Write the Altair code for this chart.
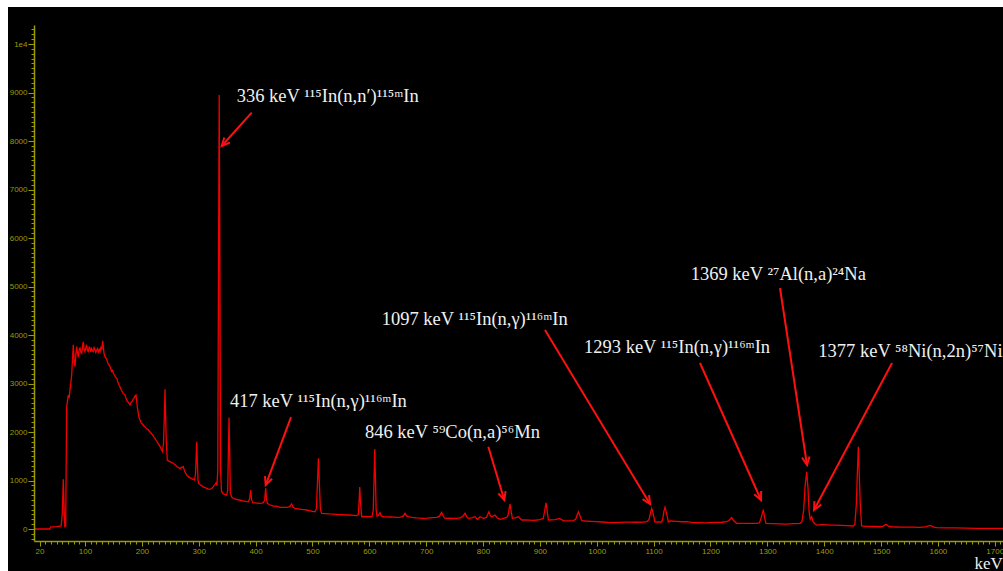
import math
import altair as alt
import pandas as pd

# ---------------- data ----------------
energy_kev = [
    10, 38, 40, 50, 58, 60, 61.8, 63, 64.5, 66, 67.8, 70.6, 72, 73.6, 75, 76.6, 78, 79.4, 81, 82.4,
    84, 85.4, 87, 88.2, 89.8, 91.2, 92.8, 94.2, 95.6, 96.9, 98.5, 99.9, 101.5, 102.9, 104.3, 105.8,
    107.3, 108.8, 110.2, 111.7, 113.1, 114.6, 116, 117.5, 119, 120.6, 122, 123.5, 125, 126.4, 128,
    129.5, 131.1, 132.3, 133.4, 135, 136.6, 138.2, 139.7, 141, 142.5, 144, 145.5, 147, 148.4, 149.8,
    151.3, 152.8, 154.3, 155.8, 157.3, 158.8, 160.3, 161.6, 163.1, 164.6, 166, 167.5, 169, 170.4,
    172, 173.5, 175, 176.6, 178, 179.1, 180.6, 182, 183.4, 184.8, 186.2, 187.8, 189.7, 190.8, 192,
    193.5, 195, 196.7, 198.5, 200, 202, 204, 205.5, 207.5, 209.5, 211.5, 213, 214.3, 216, 218, 220,
    221.5, 223.1, 225, 227, 229, 230.5, 232, 234, 236, 238, 239.5, 240.7, 241.8, 243, 244.7, 247,
    249, 251, 253, 255.3, 257, 259, 261, 263, 265, 267.1, 269, 271, 272.9, 275, 277, 279, 281.7,
    284, 286, 288, 290.5, 292.5, 294.5, 295.5, 296.5, 297.5, 298.8, 300, 302, 304, 306, 308.1, 310,
    312, 314, 316, 318, 319.8, 322, 324, 325.6, 327, 329, 330.4, 332, 333.5, 335, 336, 337, 338.5,
    340, 342.2, 344, 346, 348, 349.2, 351, 352.3, 353.3, 354.3, 355.6, 358, 360.8, 363, 366, 369,
    372.6, 376, 380, 384.4, 387, 389.5, 391.4, 393, 395, 399, 403, 407.8, 411, 413.7, 416, 417.8,
    419.2, 420.6, 425, 431, 437, 443, 449, 454.8, 460, 463.5, 466, 469.3, 475, 480, 485, 489.9, 495,
    500, 504.5, 507, 509, 510.5, 512, 514, 516.3, 522, 530, 536.7, 543, 550, 560.3, 566, 572, 578,
    580.7, 582, 583.2, 584.5, 586.6, 592, 597, 601.2, 605, 607, 608.5, 609.5, 610.7, 612, 613.5,
    616, 618.8, 621, 624.6, 630, 637, 643, 648.2, 655, 660, 662.8, 665.5, 668.6, 675, 683, 690,
    695, 702, 710, 718.5, 723, 727.3, 730.5, 733.2, 740, 747, 753.7, 760, 765, 768.3, 771, 774.1,
    780, 786, 790, 794.7, 800.5, 806, 810.5, 813, 815.3, 818, 821.1, 825, 829.9, 836, 841.7, 844,
    846, 847.5, 849, 851.6, 857, 862.2, 868, 875, 882, 888, 894.4, 900, 906, 908.5, 910.8, 912.8,
    914.9, 920, 927, 934.3, 941.3, 950, 958.9, 963, 965.5, 967.7, 970, 973.6, 980, 990, 1000, 1010,
    1020, 1029, 1040, 1050, 1058.5, 1070, 1081.9, 1088, 1092, 1094.5, 1096.7, 1099, 1102.5, 1108,
    1114.2, 1116, 1118, 1120.1, 1122.5, 1126, 1128.8, 1140, 1150, 1158.1, 1169.8, 1180, 1190,
    1199.2, 1210, 1220, 1228.5, 1233, 1237.3, 1241, 1246.1, 1255, 1265, 1275, 1281.3, 1286, 1289,
    1292.9, 1295.5, 1297.6, 1310, 1322, 1334, 1345, 1352, 1357.5, 1361, 1364, 1366.5, 1369.3,
    1371.5, 1373.5, 1375.5, 1378, 1380.5, 1384, 1386.8, 1395, 1405, 1416, 1430, 1440, 1451.2, 1454,
    1456.5, 1458.5, 1460, 1461.5, 1463.5, 1465.8, 1475, 1487, 1498, 1504, 1508.7, 1513, 1518.7,
    1530, 1545, 1557, 1568.6, 1578, 1586.2, 1593, 1598, 1615, 1630, 1650, 1668.3, 1690, 1715,
]
counts = [
    0, 0, 45, 50, 65, 300, 1025, 500, 50, 60, 2520, 2760, 2700, 2870, 3000, 3180, 3500, 3800, 3450, 3350,
    3600, 3760, 3620, 3550, 3700, 3730, 3640, 3620, 3760, 3860, 3700, 3660, 3740, 3800, 3680, 3660,
    3750, 3730, 3650, 3720, 3680, 3660, 3740, 3700, 3640, 3690, 3720, 3650, 3700, 3660, 3760,
    3700, 3880, 3750, 3620, 3560, 3530, 3490, 3440, 3400, 3380, 3350, 3300, 3250, 3270, 3210,
    3180, 3150, 3120, 3110, 3050, 3000, 2960, 2930, 2880, 2850, 2820, 2790, 2780, 2760,
    2700, 2650, 2630, 2600, 2580, 2560, 2600, 2620, 2640, 2680, 2700, 2740, 2760, 2650, 2520,
    2400, 2300, 2250, 2200, 2180, 2150, 2120, 2110, 2080, 2060, 2040, 2020, 2000, 1980, 1950, 1920,
    1890, 1870, 1830, 1790, 1760, 1730, 1700, 1650, 1600, 1750, 2300, 2880, 2300, 1800, 1420, 1400,
    1390, 1380, 1370, 1350, 1340, 1320, 1300, 1280, 1260, 1250, 1265, 1275, 1285, 1200, 1150, 1110, 1080,
    1060, 1050, 1040, 1025, 1010, 1150, 1500, 1800, 1400, 1000, 940, 920, 900, 890, 870, 860,
    850, 840, 830, 825, 818, 830, 850, 870, 900, 920, 950, 900, 1200, 6000, 8950, 6000, 1200,
    780, 736, 720, 715, 705, 700, 800, 1700, 2300, 1700, 740, 660, 633, 620, 610, 600,
    598, 585, 575, 563, 560, 620, 804, 600, 542, 540, 535, 530, 535, 542, 600, 839,
    620, 530, 500, 474, 470, 447, 445, 447, 460, 515, 450, 426, 415, 405, 400, 392, 380,
    365, 357, 420, 1000, 1460, 1000, 400, 323, 318, 312, 309, 300, 295, 289, 289, 283, 276,
    300, 550, 866, 550, 254, 258, 256, 254, 262, 400, 1100, 1650, 1100, 400, 268,
    280, 337, 270, 254, 250, 248, 245, 241, 245, 270, 323, 270, 254, 240, 230, 225,
    220, 225, 235, 241, 260, 344, 260, 220, 222, 218, 220, 230, 270, 323, 260, 220,
    230, 254, 200, 254, 220, 240, 357, 270, 254, 270, 289, 230, 200, 220, 241, 280,
    420, 515, 400, 220, 230, 254, 186, 190, 185, 180, 186, 195, 220, 380, 542, 380,
    186, 190, 195, 220, 172, 170, 172, 200, 290, 357, 290, 172, 165, 158, 151, 145,
    135, 130, 138, 142, 144, 140, 144, 150, 200, 330, 426, 330, 144, 145,
    144, 200, 360, 447, 340, 144, 165, 158, 150, 151, 130, 132, 128,
    130, 135, 140, 151, 180, 235, 170, 117, 115, 118, 116, 117, 125, 220,
    400, 220, 117, 112, 108, 103, 110, 112, 117, 150, 400, 900, 1181,
    850, 350, 200, 254, 150, 103, 82, 90, 85, 82, 75, 70, 62, 100,
    500, 1200, 1697, 1200, 500, 62, 55, 52, 47, 60, 96, 60, 47,
    42, 40, 38, 34, 45, 76, 40, 27, 25, 22, 18, 14, 15, 14,
]

x_major_ticks = [20, 100, 200, 300, 400, 500, 600, 700, 800, 900, 1000, 1100, 1200, 1300, 1400, 1500, 1600, 1700]
x_minor_ticks = list(range(20, 1711, 10))
y_major_ticks = [0, 1000, 2000, 3000, 4000, 5000, 6000, 7000, 8000, 9000, 10000]
y_minor_ticks = list(range(-200, 10301, 100))

label_text = [
    "336 keV \u00b9\u00b9\u2075In(n,n\u2032)\u00b9\u00b9\u2075\u1d50In",
    "417 keV \u00b9\u00b9\u2075In(n,\u03b3)\u00b9\u00b9\u2076\u1d50In",
    "846 keV \u2075\u2079Co(n,a)\u2075\u2076Mn",
    "1097 keV \u00b9\u00b9\u2075In(n,\u03b3)\u00b9\u00b9\u2076\u1d50In",
    "1293 keV \u00b9\u00b9\u2075In(n,\u03b3)\u00b9\u00b9\u2076\u1d50In",
    "1369 keV \u00b2\u2077Al(n,a)\u00b2\u2074Na",
    "1377 keV \u2075\u2078Ni(n,2n)\u2075\u2077Ni",
]
label_kev = [366.8, 355.0, 592.4, 621.8, 977.6, 1165.2, 1389.7]
label_counts = [8800, 2515, 1876, 4206, 3629, 5134, 3546]

arrow_kev_from = [393.2, 462.3, 809.3, 909.0, 1181.6, 1322.3, 1519.3]
arrow_counts_from = [8584, 2309, 1697, 4103, 3423, 4969, 3423]
arrow_kev_to = [340.4, 417.8, 837.4, 1093.7, 1288.9, 1369.8, 1382.1]
arrow_counts_to = [7897, 907, 598, 515, 598, 1320, 392]

# ---------------- layout / style ----------------
W, H = 969, 516
X_DOMAIN = [10.3, 1714.5]
Y_DOMAIN = [-247, 10392]
AXIS_COLOR = "#9c9c00"
LINE_COLOR = "#f00000"
TEXT_COLOR = "#f0f0f0"

px_per_kev = W / (X_DOMAIN[1] - X_DOMAIN[0])
px_per_count = H / (Y_DOMAIN[1] - Y_DOMAIN[0])

spec = pd.DataFrame({"kev": energy_kev, "cnt": counts})
labels = pd.DataFrame({"txt": label_text, "kev": label_kev, "cnt": label_counts})

angles = []
for k0, c0, k1, c1 in zip(arrow_kev_from, arrow_counts_from, arrow_kev_to, arrow_counts_to):
    dx = (k1 - k0) * px_per_kev
    dy = -(c1 - c0) * px_per_count
    angles.append(math.degrees(math.atan2(dx, -dy)) % 360)
arrows = pd.DataFrame({
    "k0": arrow_kev_from, "c0": arrow_counts_from,
    "k1": arrow_kev_to, "c1": arrow_counts_to, "ang": angles,
})

xs = alt.Scale(domain=X_DOMAIN, nice=False, zero=False)
ys = alt.Scale(domain=Y_DOMAIN, nice=False, zero=False)

bg = alt.Chart(spec).mark_rect(color="black").encode(
    x=alt.value(-26), x2=alt.value(W + 20), y=alt.value(-18), y2=alt.value(H + 40)
)

minor = alt.Chart(spec).mark_line(opacity=0).encode(
    x=alt.X("kev:Q", scale=xs, axis=alt.Axis(
        orient="bottom", values=x_minor_ticks, labels=False, domain=False, grid=False,
        tickColor=AXIS_COLOR, tickSize=3, tickWidth=1, title=None, zindex=1)),
    y=alt.Y("cnt:Q", scale=ys, axis=alt.Axis(
        orient="left", values=y_minor_ticks, labels=False, domain=False, grid=False,
        tickColor=AXIS_COLOR, tickSize=3, tickWidth=1, title=None, zindex=1)),
)

line = alt.Chart(spec).mark_line(color=LINE_COLOR, strokeWidth=1.3, clip=True).encode(
    x=alt.X("kev:Q", scale=xs, axis=alt.Axis(
        orient="bottom", values=x_major_ticks, grid=False, domainColor=AXIS_COLOR, domainWidth=1.5,
        tickColor=AXIS_COLOR, tickSize=5, tickWidth=1, labelColor=AXIS_COLOR,
        labelFont="Liberation Sans", labelFontSize=8, labelPadding=1, labelOverlap=False,
        labelFlush=False, format="d",
        title="keV", titleX=940, titleY=27, titleAlign="left", titleBaseline="alphabetic",
        titleFont="Liberation Serif", titleFontSize=17, titleFontWeight="normal",
        titleColor=TEXT_COLOR, zindex=1)),
    y=alt.Y("cnt:Q", scale=ys, axis=alt.Axis(
        orient="left", values=y_major_ticks, grid=False, domainColor=AXIS_COLOR, domainWidth=1.5,
        tickColor=AXIS_COLOR, tickSize=6, tickWidth=1, labelColor=AXIS_COLOR,
        labelFont="Liberation Sans", labelFontSize=8, labelPadding=1, labelOverlap=False,
        format="d", labelExpr="datum.value == 10000 ? '1e4' : datum.label",
        title=None, zindex=1)),
    order="kev:Q",
)

rules = alt.Chart(arrows).mark_rule(color="#ff1010", strokeWidth=2).encode(
    x=alt.X("k0:Q", scale=xs, axis=None), y=alt.Y("c0:Q", scale=ys, axis=None),
    x2="k1:Q", y2="c1:Q",
)

heads = alt.Chart(arrows).mark_point(
    shape="M -0.42 0.9 L 0 0 L 0.42 0.9", filled=False, color="#ff1010",
    strokeWidth=2, size=324, opacity=1,
).encode(
    x=alt.X("k1:Q", scale=xs, axis=None), y=alt.Y("c1:Q", scale=ys, axis=None),
    angle=alt.Angle("ang:Q", scale=None),
)

texts = alt.Chart(labels).mark_text(
    align="left", baseline="alphabetic", font="Liberation Serif", fontSize=18.5, color=TEXT_COLOR,
).encode(
    x=alt.X("kev:Q", scale=xs, axis=None), y=alt.Y("cnt:Q", scale=ys, axis=None),
    text="txt:N",
)

chart = alt.layer(bg, minor, line, rules, heads, texts).resolve_axis(
    x="independent", y="independent"
).properties(
    width=W, height=H, background="white", autosize="none",
    padding={"left": 34, "top": 25, "right": 0, "bottom": 30},
).configure_view(stroke=None)

chart.save("out.html", embed_options={"renderer": "svg", "actions": False})
